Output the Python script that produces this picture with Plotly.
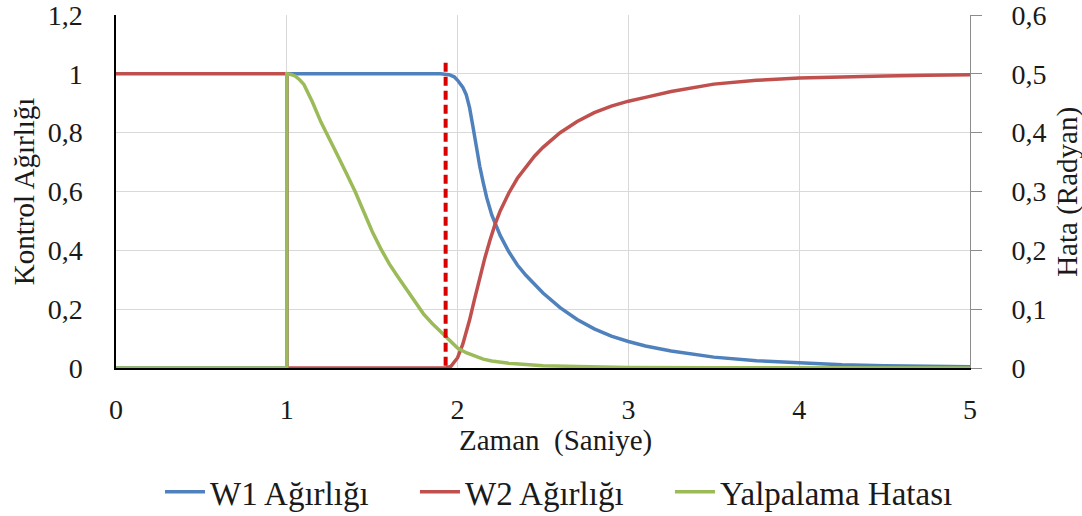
import plotly.graph_objects as go

# Time axis (seconds) and weight curves
w1_t = [0, 1, 1, 1.5, 1.9, 1.95, 1.98, 2.0, 2.03, 2.05, 2.07, 2.09, 2.11, 2.13, 2.15, 2.17,
        2.2, 2.25, 2.3, 2.35, 2.4, 2.45, 2.5, 2.6, 2.7, 2.8, 2.9, 3.0, 3.1, 3.25, 3.5,
        3.75, 4.0, 4.25, 4.5, 4.75, 5.0]
w1_val = [0, 0, 1, 1, 1, 0.997, 0.99, 0.978, 0.955, 0.93, 0.885, 0.82, 0.75, 0.685, 0.63, 0.58,
          0.52, 0.45, 0.395, 0.35, 0.315, 0.283, 0.255, 0.205, 0.165, 0.133, 0.108, 0.09, 0.075,
          0.058, 0.037, 0.025, 0.017, 0.011, 0.008, 0.005, 0.004]

w2_t = [0, 1, 1, 1.5, 1.93, 1.96, 2.0, 2.03, 2.05, 2.07, 2.1, 2.13, 2.16, 2.19, 2.22, 2.25,
        2.3, 2.35, 2.4, 2.45, 2.5, 2.6, 2.7, 2.8, 2.9, 3.0, 3.1, 3.25, 3.5, 3.75, 4.0,
        4.25, 4.5, 4.75, 5.0]
w2_val = [1, 1, 0, 0, 0, 0.005, 0.035, 0.08, 0.12, 0.163, 0.236, 0.31, 0.375, 0.435, 0.49, 0.535,
          0.595, 0.645, 0.685, 0.72, 0.75, 0.80, 0.838, 0.868, 0.89, 0.907, 0.92, 0.94, 0.965,
          0.978, 0.986, 0.99, 0.993, 0.995, 0.997]

# Yaw error (radians), right axis
err_t = [0, 1, 1, 1.025, 1.05, 1.075, 1.1, 1.15, 1.2, 1.25, 1.3, 1.35, 1.4, 1.45, 1.5, 1.55,
         1.6, 1.65, 1.7, 1.75, 1.8, 1.85, 1.9, 1.95, 2.0, 2.05, 2.1, 2.15, 2.2, 2.3, 2.4,
         2.5, 2.7, 3.0, 3.5, 4.0, 5.0]
err_val = [0, 0, 0.5, 0.499, 0.496, 0.49, 0.482, 0.452, 0.418, 0.39, 0.36, 0.33, 0.30, 0.266,
           0.232, 0.203, 0.177, 0.155, 0.134, 0.112, 0.092, 0.076, 0.062, 0.047, 0.034, 0.026,
           0.02, 0.015, 0.012, 0.008, 0.006, 0.004, 0.0025, 0.001, 0.0005, 0, 0]

switch_time = 1.93

x_ticks = [0, 1, 2, 3, 4, 5]
y_left_ticks = [0, 0.2, 0.4, 0.6, 0.8, 1.0, 1.2]
y_left_text = ["0", "0,2", "0,4", "0,6", "0,8", "1", "1,2"]
y_right_ticks = [0, 0.1, 0.2, 0.3, 0.4, 0.5, 0.6]
y_right_text = ["0", "0,1", "0,2", "0,3", "0,4", "0,5", "0,6"]

FAM = "Liberation Serif"
TXT = "#1a1a1a"
TICK_FS = 28
TITLE_FS = 29
LEGEND_FS = 33


def f(size):
    return dict(family=FAM, size=size, color=TXT)


fig = go.Figure()
fig.add_trace(go.Scatter(x=w1_t, y=w1_val, mode="lines", name="W1 Ağırlığı",
                         legendwidth=200, line=dict(color="#4F81BD", width=3.5)))
fig.add_trace(go.Scatter(x=w2_t, y=w2_val, mode="lines", name="W2 Ağırlığı",
                         legendwidth=200, line=dict(color="#C0504D", width=3.5)))
fig.add_trace(go.Scatter(x=err_t, y=err_val, mode="lines", name="Yalpalama Hatası",
                         legendwidth=250, yaxis="y2", line=dict(color="#9BBB59", width=3.5)))

fig.add_shape(type="line", x0=switch_time, x1=switch_time, y0=-0.04, y1=1.05,
              xref="x", yref="y", line=dict(color="#D90000", width=4, dash="9px,5px"))

# Axis titles
fig.add_annotation(text="Zaman  (Saniye)", x=0.515, y=-0.204, xref="paper", yref="paper",
                   xanchor="center", yanchor="middle", showarrow=False, font=f(TITLE_FS))
fig.add_annotation(text="Kontrol Ağırlığı", x=-0.108, y=0.5, xref="paper", yref="paper",
                   xanchor="center", yanchor="middle", textangle=-90, showarrow=False,
                   font=f(TITLE_FS))
fig.add_annotation(text="Hata (Radyan)", x=1.114, y=0.5, xref="paper", yref="paper",
                   xanchor="center", yanchor="middle", textangle=-90, showarrow=False,
                   font=f(TITLE_FS))

fig.update_layout(
    width=1082, height=516,
    margin=dict(l=116, r=112, t=15, b=148, autoexpand=False),
    paper_bgcolor="white", plot_bgcolor="white",
    font=f(TICK_FS),
    xaxis=dict(range=[0, 5], tickvals=x_ticks, ticktext=[str(v) for v in x_ticks],
               showgrid=True, gridcolor="#D9D9D9", gridwidth=1, zeroline=False,
               showline=True, linecolor="#000000", linewidth=1.5, ticks="",
               ticklabelstandoff=16, tickfont=f(TICK_FS), automargin=False,
               ticklabeloverflow="allow"),
    yaxis=dict(range=[0, 1.2], tickvals=y_left_ticks, ticktext=y_left_text,
               showgrid=True, gridcolor="#D9D9D9", gridwidth=1, zeroline=False,
               showline=True, linecolor="#000000", linewidth=1.5, ticks="",
               ticklabelstandoff=26, tickfont=f(TICK_FS), automargin=False,
               ticklabeloverflow="allow"),
    yaxis2=dict(range=[0, 0.6], tickvals=y_right_ticks, ticktext=y_right_text,
                overlaying="y", side="right", showgrid=False, zeroline=False,
                showline=True, linecolor="#8C8C8C", linewidth=1,
                ticks="outside", ticklen=11, tickcolor="#8C8C8C",
                ticklabelstandoff=24, tickfont=f(TICK_FS), automargin=False,
                ticklabeloverflow="allow"),
    legend=dict(orientation="h", x=0.0515, xanchor="left", y=-0.351, yanchor="middle",
                font=f(LEGEND_FS), itemwidth=40,
                traceorder="normal", bgcolor="rgba(0,0,0,0)"),
    showlegend=True,
)

fig.write_html("out.html")
